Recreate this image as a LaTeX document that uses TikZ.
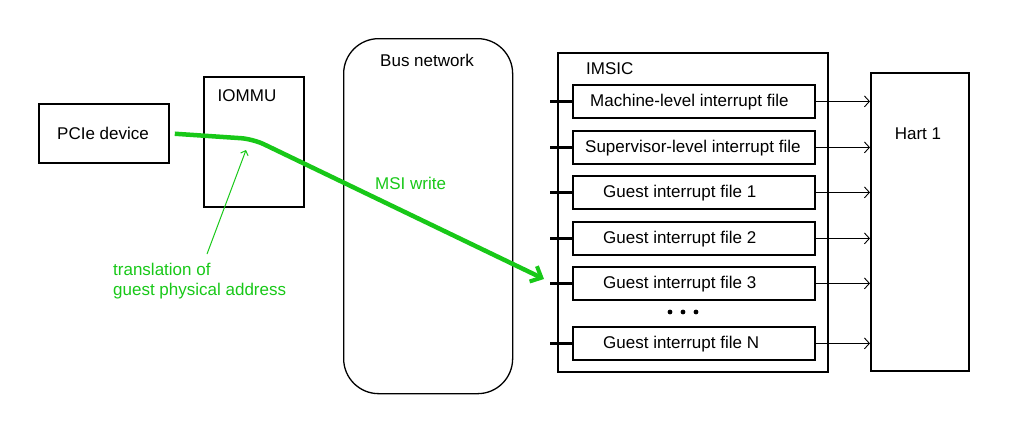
\documentclass[tikz,border=0pt]{standalone}
\usepackage{fontspec}
\setmainfont{Liberation Sans}
\usetikzlibrary{arrows.meta}
\definecolor{grn}{RGB}{24,200,24}
\begin{document}
\begin{tikzpicture}[x=1pt,y=-1pt,
  box/.style={draw, line width=1.8pt, inner sep=0pt, anchor=north west},
  ibox/.style={draw, line width=1.8pt, minimum width=242pt, minimum height=33pt, inner sep=0pt, anchor=north west},
  txt/.style={font=\fontsize{17}{20}\selectfont, inner sep=0pt},
  gtxt/.style={txt, text=grn},
  stub/.style={line width=2.6pt},
  harr/.style={line width=0.9pt, -{Straight Barb[length=5pt,width=11pt]}},
]
\useasboundingbox (0,0) rectangle (1010,432);

% PCIe device
\node[box, minimum width=130pt, minimum height=59pt] (pcie) at (38,103) {};
\node[txt] (pcielbl) at (103,133) {PCIe device};

% IOMMU
\node[box, minimum width=100pt, minimum height=130pt] (iommu) at (203,76) {};
\node[txt] (iommulbl) at (247,96) {IOMMU};

% Bus network
\node[draw, line width=1.3pt, rounded corners=35pt, minimum width=169pt, minimum height=355pt, inner sep=0pt, anchor=north west] (bus) at (343,38) {};
\node[txt] (buslbl) at (427,60) {Bus network};

% IMSIC
\node[box, minimum width=270pt, minimum height=319pt] (imsic) at (557,52) {};
\node[txt, anchor=west] (imsiclbl) at (586,69) {IMSIC};

% interrupt files
\node[ibox] (m)  at (572,84)  {};
\node[ibox] (s)  at (572,130) {};
\node[ibox] (g1) at (572,175) {};
\node[ibox] (g2) at (572,221) {};
\node[ibox] (g3) at (572,266) {};
\node[ibox] (gn) at (572,326) {};

\node[txt, anchor=west] (mlbl)  at (590,102) {Machine-level interrupt file};
\node[txt, anchor=west] (slbl)  at (585,148) {Supervisor-level interrupt file};
\node[txt, anchor=west] (g1lbl) at (603,193) {Guest interrupt file 1};
\node[txt, anchor=west] (g2lbl) at (603,239) {Guest interrupt file 2};
\node[txt, anchor=west] (g3lbl) at (603,284) {Guest interrupt file 3};
\node[txt, anchor=west] (gnlbl) at (603,344) {Guest interrupt file N};

\foreach \x in {670,683,696} \fill (\x,312) circle (2.4pt);

% Hart
\node[box, minimum width=98pt, minimum height=298pt] (hart) at (870,72) {};
\node[txt] (hartlbl) at (918,134) {Hart 1};

% stubs and arrows
\foreach \n in {m,s,g1,g2,g3,gn} {
  \draw[stub] (\n.west) -- ++(-22,0);
  \draw[harr] (\n.east) -- (\n.east -| hart.west);
}

% MSI write path
\coordinate (gbend) at (253,139);
\coordinate (msiend) at (544,279);
\draw[grn, line width=4.5pt, rounded corners=12pt, shorten <=5pt,
  -{Straight Barb[length=9pt,width=17pt,line width=4pt]}]
  (pcie.east) -- (gbend) -- (msiend);
\node[gtxt, anchor=west] (msilbl) at (375,183) {MSI write};

% translation note
\node[gtxt, anchor=west, align=left] (trlbl) at (113,281) {translation of\\guest physical address};
\coordinate (trstart) at (207,254);
\coordinate (trend) at (246,150);
\draw[grn, line width=1pt, -{Straight Barb[length=4pt,width=8pt]}] (trstart) -- (trend);
\end{tikzpicture}
\end{document}
